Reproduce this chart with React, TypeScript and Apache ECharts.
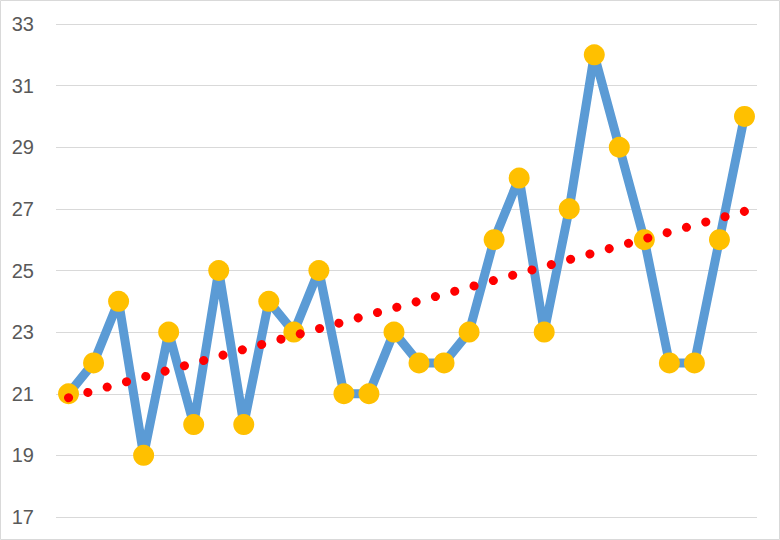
import React, { useEffect, useRef } from "react";
import * as echarts from "echarts";

const categories: string[] = Array.from({ length: 28 }, (_, i) => String(i + 1));
const values: number[] = [21, 22, 24, 19, 23, 20, 25, 20, 24, 23, 25, 21, 21, 23, 22, 22, 23, 26, 28, 23, 27, 32, 29, 26, 22, 22, 26, 30];
const trendEnds: number[] = [20.87, 26.92];

export default function App() {
  const ref = useRef<HTMLDivElement>(null);
  useEffect(() => {
    if (!ref.current) return;
    const chart = echarts.init(ref.current, undefined, { renderer: "svg" });
    const trendData = categories.map((_, i) =>
      i === 0 ? trendEnds[0] : i === categories.length - 1 ? trendEnds[1] : null
    );
    chart.setOption({
      animation: false,
      backgroundColor: "#ffffff",
      graphic: [
        {
          type: "rect",
          shape: { x: 0.5, y: 0.5, width: 779, height: 539 },
          style: { fill: "none", stroke: "#d9d9d9", lineWidth: 1 },
          silent: true,
        },
      ],
      grid: { left: 56, right: 23, top: 24, bottom: 23, containLabel: false },
      xAxis: {
        type: "category",
        data: categories,
        boundaryGap: true,
        axisLine: { show: false },
        axisTick: { show: false },
        axisLabel: { show: false },
        splitLine: { show: false },
      },
      yAxis: {
        type: "value",
        min: 17,
        max: 33,
        interval: 2,
        axisLine: { show: false },
        axisTick: { show: false },
        axisLabel: {
          color: "#595959",
          fontSize: 20,
          fontFamily: "Liberation Sans",
          margin: 22,
        },
        splitLine: { lineStyle: { color: "#d9d9d9", width: 1 } },
      },
      series: [
        {
          type: "line",
          data: values,
          lineStyle: { color: "#5b9bd5", width: 9, join: "round" },
          symbol: "circle",
          symbolSize: 21,
          showSymbol: true,
          showAllSymbol: true,
          itemStyle: { color: "#ffc000", borderWidth: 0 },
          z: 2,
        },
        {
          type: "line",
          data: trendData,
          connectNulls: true,
          symbol: "none",
          lineStyle: { color: "#ff0000", width: 9, type: [0.1, 19.93], cap: "round" },
          z: 3,
        },
      ],
    });
    return () => chart.dispose();
  }, []);
  return (
    <div
      ref={ref}
      style={{ position: "absolute", left: 0, top: 0, width: 780, height: 540 }}
    />
  );
}
